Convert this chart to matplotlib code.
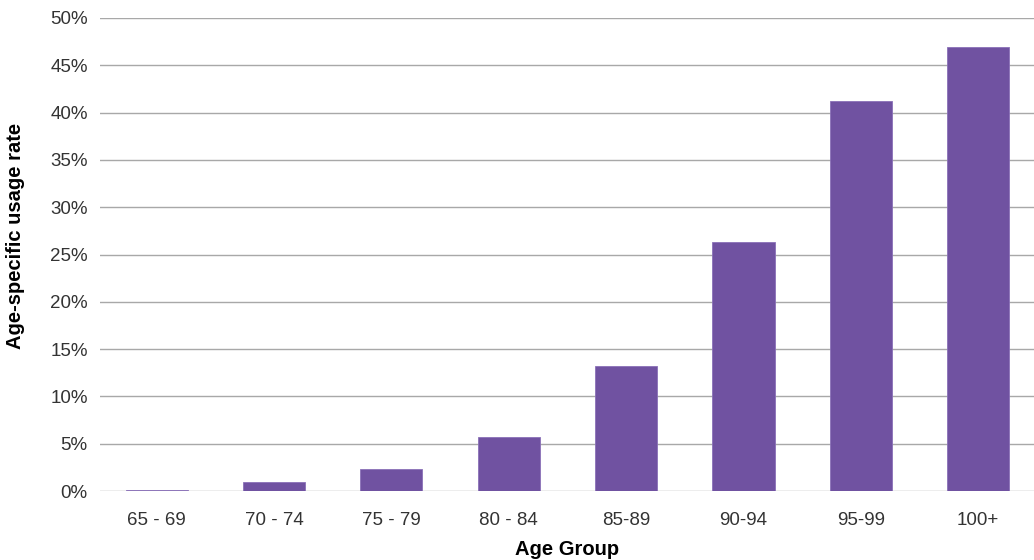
import matplotlib
matplotlib.use("Agg")
import matplotlib.pyplot as plt
from matplotlib.ticker import FuncFormatter

plt.rcParams['font.family'] = ['Liberation Sans', 'DejaVu Sans']

age_groups = ['65 - 69', '70 - 74', '75 - 79', '80 - 84', '85-89', '90-94', '95-99', '100+']
usage_rate = [0.15, 0.95, 2.35, 5.75, 13.25, 26.3, 41.2, 46.9]

fig = plt.figure(figsize=(10.34, 5.6), dpi=100)
ax = fig.add_axes([0.097, 0.123, 0.903, 0.845])

ax.bar(range(len(age_groups)), usage_rate, width=0.53, color='#7052A1',
       edgecolor='#8a70b8', linewidth=0.6, zorder=3)

ax.set_ylim(0, 50)
ax.set_xlim(-0.48, 7.475)
ax.set_yticks(range(0, 51, 5))
ax.yaxis.set_major_formatter(FuncFormatter(lambda v, p: f'{int(v)}%'))
ax.set_xticks(range(len(age_groups)))
ax.set_xticklabels(age_groups)
ax.grid(axis='y', color='#a8a8a8', linewidth=1, zorder=0)
for s in ax.spines.values():
    s.set_visible(False)
ax.tick_params(length=0, labelsize=13.5, colors='#333333', pad=9)
ax.tick_params(axis='x', pad=15)

ax.set_xlabel('Age Group', fontsize=14.5, fontweight='bold', labelpad=8)
ax.set_ylabel('Age-specific usage rate', fontsize=14.5, fontweight='bold')
ax.yaxis.set_label_coords(-0.081, 0.54)

fig.savefig('out.png', dpi=100)
